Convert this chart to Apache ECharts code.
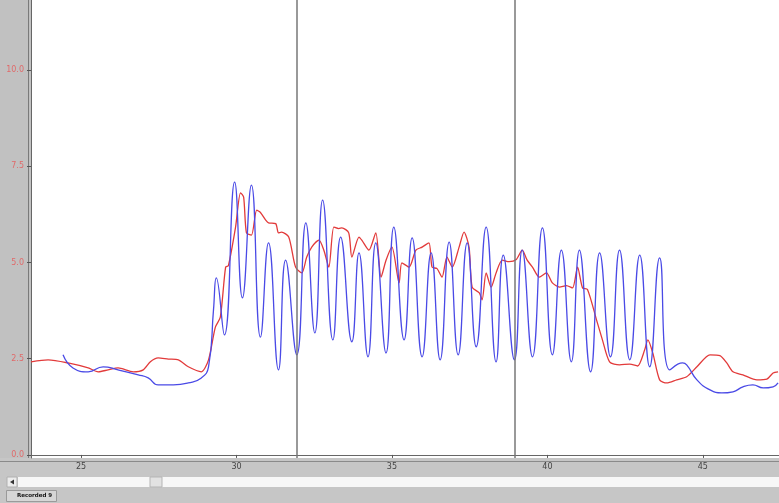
<!DOCTYPE html>
<html>
<head>
<meta charset="utf-8">
<script src="https://cdn.jsdelivr.net/npm/echarts@6/dist/echarts.min.js"></script>
<style>
  html, body { margin: 0; padding: 0; background: #fff; }
  #main { width: 779px; height: 503px; }
</style>
</head>
<body>
<div id="main"></div>
<script>
"use strict";

// time (s) / value pairs
var redTrace = [
  [23.39, 2.42], [23.94, 2.47], [24.58, 2.39], [25.23, 2.26], [25.55, 2.16],
  [25.87, 2.21], [26.19, 2.26], [26.68, 2.16], [27.0, 2.21], [27.23, 2.42],
  [27.48, 2.52], [27.81, 2.49], [28.13, 2.47], [28.45, 2.29], [28.87, 2.16],
  [29.10, 2.47], [29.32, 3.32], [29.48, 3.58], [29.65, 4.88], [29.74, 4.92],
  [29.97, 5.92], [30.13, 6.81], [30.23, 6.70], [30.32, 5.77], [30.48, 5.71],
  [30.65, 6.36], [30.77, 6.30], [30.94, 6.10], [31.03, 6.03], [31.26, 6.01],
  [31.35, 5.77], [31.45, 5.79], [31.68, 5.66], [31.90, 4.88], [32.10, 4.73],
  [32.26, 5.14], [32.42, 5.40], [32.65, 5.58], [32.81, 5.32], [32.97, 4.88],
  [33.13, 5.92], [33.29, 5.88], [33.39, 5.90], [33.61, 5.77], [33.71, 5.14],
  [33.94, 5.66], [34.03, 5.58], [34.26, 5.32], [34.48, 5.77], [34.65, 4.62],
  [34.81, 5.06], [35.0, 5.40], [35.23, 4.47], [35.32, 4.99], [35.55, 4.88],
  [35.77, 5.32], [35.97, 5.40], [36.19, 5.51], [36.29, 4.88], [36.45, 4.84],
  [36.61, 4.62], [36.77, 5.14], [36.94, 4.88], [37.16, 5.40], [37.32, 5.79],
  [37.48, 5.40], [37.58, 4.36], [37.81, 4.21], [37.90, 4.03], [38.03, 4.73],
  [38.19, 4.36], [38.35, 4.73], [38.55, 5.06], [38.77, 5.02], [39.0, 5.08],
  [39.19, 5.32], [39.35, 5.06], [39.52, 4.88], [39.74, 4.62], [39.97, 4.73],
  [40.16, 4.47], [40.39, 4.36], [40.61, 4.40], [40.81, 4.34], [40.97, 4.88],
  [41.13, 4.34], [41.29, 4.30], [41.58, 3.51], [41.77, 2.99], [42.0, 2.42],
  [42.32, 2.34], [42.65, 2.36], [42.90, 2.31], [43.13, 2.73], [43.23, 2.99],
  [43.39, 2.65], [43.61, 1.95], [43.84, 1.87], [44.16, 1.95], [44.48, 2.03],
  [44.81, 2.29], [45.23, 2.60], [45.55, 2.58], [45.77, 2.39], [45.97, 2.16],
  [46.29, 2.08], [46.74, 1.95], [47.06, 1.97], [47.26, 2.13], [47.42, 2.16]
];

var blueTrace = [
  [24.42, 2.60], [24.74, 2.26], [25.23, 2.16], [25.71, 2.29], [26.19, 2.21],
  [26.84, 2.08], [27.16, 2.00], [27.48, 1.82], [27.97, 1.82], [28.45, 1.87],
  [28.87, 2.00], [29.10, 2.29], [29.26, 3.77], [29.35, 4.60], [29.61, 3.12],
  [29.94, 7.09], [30.19, 4.08], [30.48, 7.01], [30.77, 3.06], [31.03, 5.51],
  [31.35, 2.21], [31.58, 5.06], [31.94, 2.60], [32.23, 6.03], [32.52, 3.17],
  [32.77, 6.62], [33.10, 2.99], [33.35, 5.66], [33.71, 2.94], [33.94, 5.25],
  [34.23, 2.55], [34.48, 5.51], [34.81, 2.65], [35.06, 5.92], [35.39, 2.99],
  [35.65, 5.64], [35.97, 2.55], [36.26, 5.25], [36.55, 2.47], [36.84, 5.53],
  [37.13, 2.60], [37.42, 5.51], [37.71, 2.81], [38.03, 5.92], [38.35, 2.42],
  [38.58, 5.19], [38.94, 2.47], [39.19, 5.32], [39.52, 2.55], [39.84, 5.90],
  [40.16, 2.60], [40.45, 5.32], [40.77, 2.42], [41.03, 5.32], [41.39, 2.16],
  [41.68, 5.25], [42.03, 2.55], [42.32, 5.32], [42.65, 2.47], [42.97, 5.19],
  [43.29, 2.29], [43.61, 5.12], [43.94, 2.21], [44.35, 2.39], [44.48, 2.34],
  [44.81, 1.95], [45.23, 1.69], [45.61, 1.61], [45.97, 1.64], [46.29, 1.77],
  [46.61, 1.82], [46.94, 1.74], [47.26, 1.77], [47.42, 1.87]
];

var cursorTimes = [31.95, 38.95];
var xTickValues = [25, 30, 35, 40, 45];
var yTickValues = [0, 2.5, 5, 7.5, 10];
var xRange = [23.39, 47.45];
var yRange = [-0.08, 11.82];

var myChart = echarts.init(document.getElementById("main"));

var option = {
  backgroundColor: "#ffffff",
  animation: false,
  grid: { left: 31, right: 0, top: 0, bottom: 45 },
  xAxis: {
    type: "value",
    min: xRange[0],
    max: xRange[1],
    axisLine: { lineStyle: { color: "#666", width: 1 } },
    axisTick: { customValues: xTickValues, length: 3, lineStyle: { color: "#555" } },
    axisLabel: {
      customValues: xTickValues,
      color: "#444",
      fontSize: 8,
      fontFamily: "DejaVu Sans",
      margin: 5,
    },
    splitLine: { show: false },
  },
  yAxis: {
    type: "value",
    min: yRange[0],
    max: yRange[1],
    axisLine: { show: true, lineStyle: { color: "#666", width: 1 } },
    axisTick: { show: true, customValues: yTickValues, length: 4, lineStyle: { color: "#555" } },
    axisLabel: {
      customValues: yTickValues,
      color: "#e06a6a",
      fontSize: 8,
      fontFamily: "DejaVu Sans",
      margin: 7,
      formatter: function (v) { return v.toFixed(1); },
    },
    splitLine: { show: false },
  },
  graphic: [
    { type: "rect", z: -1, shape: { x: 0, y: 0, width: 31, height: 458 }, style: { fill: "#c1c1c1" } },
    { type: "line", shape: { x1: 28.5, y1: 0, x2: 28.5, y2: 458 }, style: { stroke: "#7a7a7a", lineWidth: 1 } },
    { type: "rect", z: -1, shape: { x: 0, y: 458, width: 779, height: 45 }, style: { fill: "#c6c6c6" } },
    { type: "line", shape: { x1: 0, y1: 461.5, x2: 779, y2: 461.5 }, style: { stroke: "#8a8a8a", lineWidth: 1 } },
    { type: "rect", shape: { x: 18, y: 477, width: 761, height: 10 }, style: { fill: "#f7f7f7" } },
    { type: "rect", shape: { x: 7, y: 477, width: 10, height: 10 }, style: { fill: "#ececec", stroke: "#b0b0b0", lineWidth: 1 } },
    { type: "polygon", shape: { points: [[10, 482], [14, 479.5], [14, 484.5]] }, style: { fill: "#333" } },
    { type: "rect", shape: { x: 150, y: 477, width: 12, height: 10 }, style: { fill: "#e2e2e2", stroke: "#b5b5b5", lineWidth: 1 } },
    { type: "rect", shape: { x: 6.5, y: 490.5, width: 50, height: 11 }, style: { fill: "#d6d6d6", stroke: "#9a9a9a", lineWidth: 1 } },
    { type: "text", x: 17, y: 496, style: { text: "Recorded 9", fontSize: 5.5, fontWeight: "bold", fill: "#111", fontFamily: "DejaVu Sans", verticalAlign: "middle" } },
  ],
  series: [
    {
      name: "red",
      type: "line",
      data: redTrace,
      showSymbol: false,
      smooth: 0.25,
      lineStyle: { color: "#e23a3a", width: 1.3 },
      z: 2,
    },
    {
      name: "blue",
      type: "line",
      data: blueTrace,
      showSymbol: false,
      smooth: 0.5,
      lineStyle: { color: "#4a4ae6", width: 1.3 },
      z: 3,
      markLine: {
        symbol: "none",
        silent: true,
        label: { show: false },
        lineStyle: { color: "#777", width: 1.5, type: "solid" },
        data: cursorTimes.map(function (t) { return { xAxis: t }; }),
      },
    },
  ],
};

option && myChart.setOption(option);
</script>
</body>
</html>
